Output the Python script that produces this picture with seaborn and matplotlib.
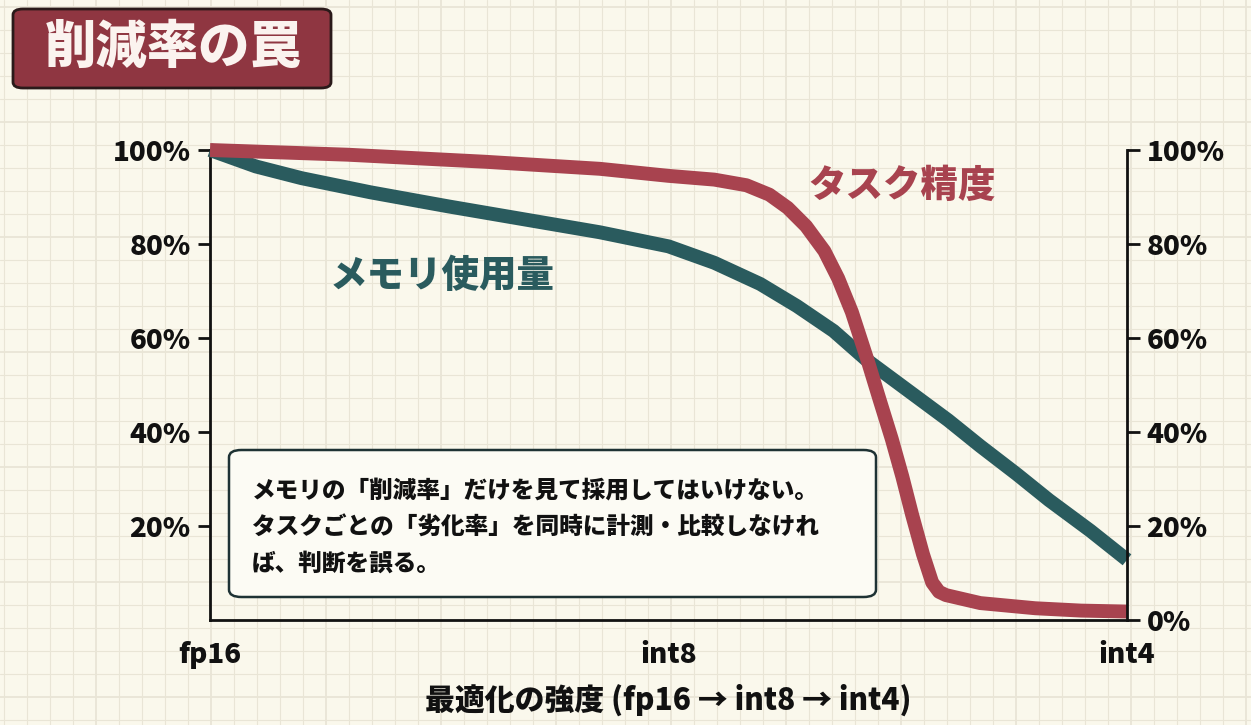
import numpy as np
import pandas as pd
import seaborn as sns
import matplotlib.pyplot as plt
from matplotlib.patches import FancyBboxPatch
from matplotlib.ticker import PercentFormatter

# data (x: 0=fp16, 1=int8, 2=int4)
memory_x = [0.0, 0.10, 0.20, 0.35, 0.52, 0.70, 0.85, 1.00, 1.10, 1.20, 1.28, 1.36, 1.43, 1.52, 1.61, 1.68, 1.76, 1.83, 1.92, 2.00]
memory_y = [1.00, 0.965, 0.94, 0.91, 0.88, 0.85, 0.825, 0.795, 0.76, 0.715, 0.668, 0.615, 0.555, 0.49, 0.425, 0.37, 0.31, 0.255, 0.19, 0.128]

accuracy_x = [0.0, 0.30, 0.60, 0.85, 1.00, 1.10, 1.17, 1.22, 1.26, 1.30, 1.34, 1.37, 1.40, 1.435, 1.46, 1.487, 1.51, 1.531, 1.555, 1.575, 1.59, 1.605, 1.68, 1.80, 1.90, 2.00]
accuracy_y = [1.00, 0.99, 0.975, 0.96, 0.945, 0.937, 0.925, 0.905, 0.877, 0.838, 0.785, 0.727, 0.655, 0.55, 0.47, 0.385, 0.305, 0.225, 0.14, 0.08, 0.06, 0.053, 0.036, 0.025, 0.02, 0.018]

x_ticks = [0, 1, 2]
x_labels = ["fp16", "int8", "int4"]
y_ticks_left = [0.2, 0.4, 0.6, 0.8, 1.0]
y_ticks_right = [0.0, 0.2, 0.4, 0.6, 0.8, 1.0]

title = "削減率の罠"
memory_label = "メモリ使用量"
accuracy_label = "タスク精度"
xlabel = "最適化の強度 (fp16 → int8 → int4)"
note = "メモリの「削減率」だけを見て採用してはいけない。\nタスクごとの「劣化率」を同時に計測・比較しなけれ\nば、判断を誤る。"

TEAL = "#2A5B5E"
RED = "#A8434F"
BG = "#FAF8EC"
GRID = "#E9E5D6"
INK = "#111111"

sns.set_theme(style="white")
plt.rcParams['font.family'] = ['Noto Sans CJK JP', 'DejaVu Sans']
plt.rcParams['font.weight'] = 'bold'

W, H = 1251, 725
fig = plt.figure(figsize=(W / 100, H / 100), dpi=100)
fig.patch.set_facecolor(BG)

# graph-paper background
bg = fig.add_axes([0, 0, 1, 1], zorder=-5)
bg.set_xlim(0, W)
bg.set_ylim(H, 0)
bg.axis("off")
step = 23
for i, gx in enumerate(np.arange(4, W, step)):
    bg.axvline(gx, color=GRID, lw=1.3 if i % 5 == 4 else 0.8, zorder=0)
for i, gy in enumerate(np.arange(7, H, step)):
    bg.axhline(gy, color=GRID, lw=1.3 if i % 5 == 0 else 0.8, zorder=0)

# main axes
left, right, bottom, top = 210, 1127, 620, 150
ax = fig.add_axes([left / W, 1 - bottom / H, (right - left) / W, (bottom - top) / H])
ax.patch.set_alpha(0)

df_mem = pd.DataFrame({"x": memory_x, "y": memory_y})
df_acc = pd.DataFrame({"x": accuracy_x, "y": accuracy_y})
sns.lineplot(data=df_mem, x="x", y="y", ax=ax, color=TEAL, lw=10, sort=False,
             solid_capstyle="butt", solid_joinstyle="round", clip_on=False, zorder=3)
sns.lineplot(data=df_acc, x="x", y="y", ax=ax, color=RED, lw=10, sort=False,
             solid_capstyle="butt", solid_joinstyle="round", clip_on=False, zorder=4)

ax.set_xlim(0, 2)
ax.set_ylim(0, 1)
ax.set_xticks(x_ticks)
ax.set_xticklabels(x_labels)
ax.set_yticks(y_ticks_left)
ax.yaxis.set_major_formatter(PercentFormatter(1.0, decimals=0))
ax.set_xlabel(xlabel, fontsize=21.5, fontweight="heavy", color=INK, labelpad=10)
ax.set_ylabel("")
for s in ["top", "right"]:
    ax.spines[s].set_visible(False)
for s in ["left", "bottom"]:
    ax.spines[s].set_color(INK)
    ax.spines[s].set_linewidth(2)
ax.tick_params(axis="both", direction="out", length=9, width=2, colors=INK,
               labelsize=20, pad=5)
ax.tick_params(axis="x", pad=6)
for lab in ax.get_xticklabels() + ax.get_yticklabels():
    lab.set_fontweight("heavy")

ax2 = ax.twinx()
ax2.set_ylim(0, 1)
ax2.set_yticks(y_ticks_right)
ax2.yaxis.set_major_formatter(PercentFormatter(1.0, decimals=0))
for s in ["top", "left", "bottom"]:
    ax2.spines[s].set_visible(False)
ax2.spines["right"].set_color(INK)
ax2.spines["right"].set_linewidth(2)
ax2.tick_params(axis="y", direction="out", length=9, width=2, colors=INK, labelsize=20, pad=5)
for lab in ax2.get_yticklabels():
    lab.set_fontweight("heavy")
ax2.grid(False)
ax.grid(False)

# series labels
fig.text(330 / W, 1 - 276 / H, memory_label, color=TEAL, fontsize=27, fontweight="black",
         ha="left", va="center")
fig.text(808 / W, 1 - 186 / H, accuracy_label, color=RED, fontsize=27, fontweight="black",
         ha="left", va="center")

# title badge
tb = FancyBboxPatch((13 / W, 1 - 88 / H), 318 / W, 79 / H,
                    boxstyle="round,pad=0,rounding_size=0.008", transform=fig.transFigure,
                    facecolor="#8F3641", edgecolor="#2A1A1A", lw=2, zorder=5)
fig.add_artist(tb)
fig.text(173 / W, 1 - 48 / H, title, color="#FBF3EF", fontsize=37, fontweight="black",
         ha="center", va="center", zorder=6)

# note box
nb = FancyBboxPatch((229 / W, 1 - 597 / H), 647 / W, 147 / H,
                    boxstyle="round,pad=0,rounding_size=0.01", transform=fig.transFigure,
                    facecolor="#FCFBF4", edgecolor="#1E3234", lw=1.8, zorder=5)
fig.add_artist(nb)
fig.text(252 / W, 1 - 527 / H, note, color=INK, fontsize=17, fontweight="black",
         ha="left", va="center", linespacing=1.62, zorder=6)

fig.savefig("out.png", dpi=100, facecolor=BG)
